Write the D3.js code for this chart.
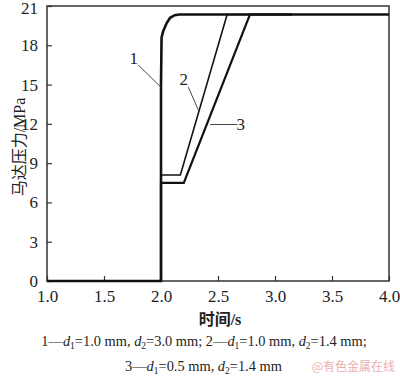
<!DOCTYPE html>
<html><head><meta charset="utf-8">
<script src="https://cdn.jsdelivr.net/npm/d3@7"></script>
<style>body{margin:0;background:#fff}svg{display:block}</style>
</head><body><svg id="c" width="400" height="377"></svg>
<script>
const xTicks = [1.0, 1.5, 2.0, 2.5, 3.0, 3.5, 4.0];
const yTicks = [0, 3, 6, 9, 12, 15, 18, 21];
const curve1X = [1.0, 2.0, 2.0, 2.005, 2.02, 2.05, 2.08, 2.12, 2.16, 4.0];
const curve1Y = [0, 0, 15, 18.6, 19.1, 19.7, 20.1, 20.3, 20.35, 20.35];
const curve2X = [1.0, 2.0, 2.0, 2.17, 2.58, 3.15];
const curve2Y = [0, 0, 8.1, 8.1, 20.35, 20.35];
const curve3X = [1.0, 2.0, 2.0, 2.2, 2.78, 3.15];
const curve3Y = [0, 0, 7.5, 7.5, 20.35, 20.35];
const labels = ["1", "2", "3"];

const svg = d3.select("#c");
const L = 47, R = 389, T = 6, B = 281;
const x = d3.scaleLinear().domain([1, 4]).range([L, R]);
const y = d3.scaleLinear().domain([0, 21]).range([B, T]);
const serif = "'Liberation Serif','Times New Roman','Noto Sans CJK SC',serif";
const ink = "#222";

// frame
svg.append("rect").attr("x", L).attr("y", T).attr("width", R - L).attr("height", B - T)
  .attr("fill", "none").attr("stroke", "#333").attr("stroke-width", 1.5);

// x axis
const xa = svg.append("g").attr("transform", `translate(0,${B})`)
  .call(d3.axisBottom(x).tickValues(xTicks).tickFormat(d3.format(".1f")).tickSizeInner(-5).tickSizeOuter(0).tickPadding(9));
xa.select(".domain").remove();
xa.selectAll("line").attr("stroke", "#333").attr("stroke-width", 1.2);
xa.selectAll("text").attr("font-family", serif).attr("font-size", 17).attr("fill", ink);

// y axis
const ya = svg.append("g").attr("transform", `translate(${L},0)`)
  .call(d3.axisLeft(y).tickValues(yTicks).tickSizeInner(-5).tickSizeOuter(0).tickPadding(9));
ya.select(".domain").remove();
ya.selectAll("line").attr("stroke", "#333").attr("stroke-width", 1.2);
ya.selectAll("text").attr("font-family", serif).attr("font-size", 17).attr("fill", ink)
  .attr("dy", d => d === 21 ? "0.42em" : "0.32em");

const line = d3.line().x(d => x(d[0])).y(d => y(d[1]));
function draw(xs, ys, w) {
  svg.append("path").datum(xs.map((v, i) => [v, ys[i]]))
    .attr("d", line).attr("fill", "none").attr("stroke", "#111")
    .attr("stroke-width", w).attr("stroke-linejoin", "miter");
}
draw(curve3X, curve3Y, 2.2);
draw(curve2X, curve2Y, 1.6);
draw(curve1X, curve1Y, 2.6);

// curve labels with leaders
const lab = [
  {t: labels[0], tx: 1.76, ty: 16.6, lx1: 1.80, ly1: 16.5, lx2: 2.0, ly2: 14.8},
  {t: labels[1], tx: 2.2, ty: 15.0, lx1: 2.24, ly1: 14.8, lx2: 2.33, ly2: 13.0},
  {t: labels[2], tx: 2.7, ty: 11.5, lx1: 2.67, ly1: 11.95, lx2: 2.43, ly2: 11.95}
];
lab.forEach(d => {
  svg.append("line").attr("x1", x(d.lx1)).attr("y1", y(d.ly1)).attr("x2", x(d.lx2)).attr("y2", y(d.ly2))
    .attr("stroke", "#333").attr("stroke-width", 0.9);
  svg.append("text").attr("x", x(d.tx)).attr("y", y(d.ty)).attr("text-anchor", "middle")
    .attr("font-family", serif).attr("font-size", 17).attr("fill", ink).text(d.t);
});

// axis titles
svg.append("text").attr("transform", `translate(19,147) rotate(-90)`).attr("text-anchor", "middle")
  .attr("dominant-baseline", "central")
  .attr("font-family", serif).attr("font-size", 16).attr("fill", ink).text("马达压力/MPa");
svg.append("text").attr("x", 220).attr("y", 325).attr("text-anchor", "middle")
  .attr("font-family", serif).attr("font-size", 16).attr("font-weight", "bold").attr("fill", ink).text("时间/s");

// caption
function cap(t, parts) {
  parts.forEach(p => {
    const s = t.append("tspan").text(p[0]);
    if (p[1] === "i") s.attr("font-style", "italic");
    if (p[1] === "sub") s.attr("font-size", 9.5).attr("dy", 3);
    if (p[1] === "up") s.attr("dy", -3);
  });
}
const c1 = svg.append("text").attr("x", 204).attr("y", 346).attr("text-anchor", "middle")
  .attr("font-family", serif).attr("font-size", 14.4).attr("fill", ink);
cap(c1, [["1—"], ["d", "i"], ["1", "sub"], ["=1.0 mm, ", "up"], ["d", "i"], ["2", "sub"], ["=3.0 mm; 2—", "up"],
  ["d", "i"], ["1", "sub"], ["=1.0 mm, ", "up"], ["d", "i"], ["2", "sub"], ["=1.4 mm;", "up"]]);
const c2 = svg.append("text").attr("x", 125).attr("y", 371)
  .attr("font-family", serif).attr("font-size", 14.4).attr("fill", ink);
cap(c2, [["3—"], ["d", "i"], ["1", "sub"], ["=0.5 mm, ", "up"], ["d", "i"], ["2", "sub"], ["=1.4 mm", "up"]]);
svg.append("text").attr("x", 395).attr("y", 371).attr("text-anchor", "end")
  .attr("font-family", "'Noto Sans CJK SC',sans-serif").attr("font-size", 12).attr("fill", "#eab0b0")
  .text("@有色金属在线");
</script></body></html>
